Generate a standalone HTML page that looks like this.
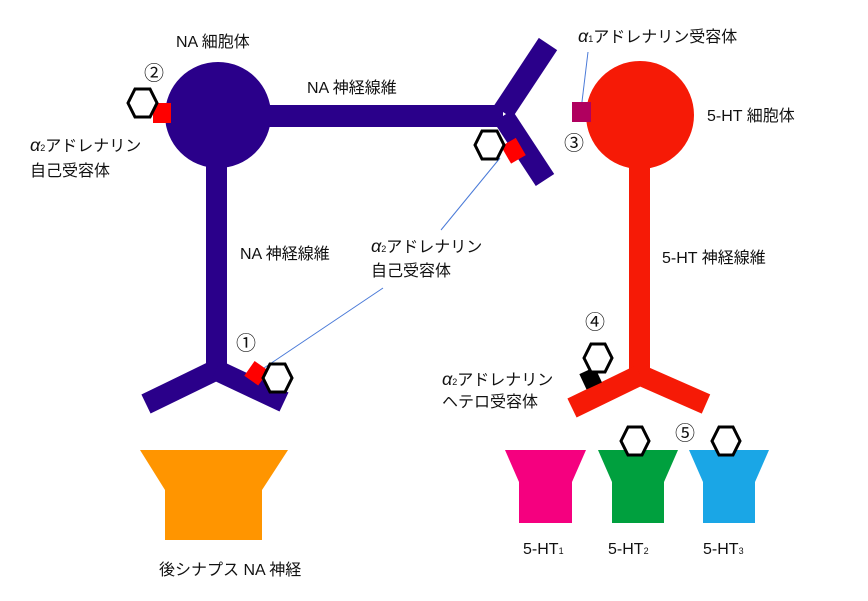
<!DOCTYPE html>
<html><head><meta charset="utf-8"><style>
html,body{margin:0;padding:0;background:#fff;width:868px;height:601px;overflow:hidden}
text{font-family:"Liberation Sans","Noto Sans CJK JP",sans-serif;font-size:16px;fill:#111}
.s{font-size:9px}
.c{font-size:20px}
.a{font-style:italic;font-size:18px}
</style></head><body>
<svg width="868" height="601" viewBox="0 0 868 601" xmlns="http://www.w3.org/2000/svg">
<g fill="#2a008a" stroke="#2a008a">
<circle cx="218" cy="115" r="53" stroke="none"/>
<line x1="260" y1="116" x2="503" y2="116" stroke-width="22"/>
<line x1="503" y1="112" x2="548" y2="44" stroke-width="22"/>
<line x1="503" y1="116" x2="545" y2="180" stroke-width="22"/>
<line x1="216.5" y1="150" x2="216.5" y2="372" stroke-width="21"/>
<line x1="216" y1="370" x2="146" y2="404" stroke-width="21"/>
<line x1="216" y1="370" x2="284" y2="402" stroke-width="21"/>
</g>
<g stroke="#f61a06" fill="#f61a06">
<circle cx="640" cy="115" r="54" stroke="none"/>
<line x1="639.5" y1="150" x2="639.5" y2="378" stroke-width="21"/>
<line x1="640" y1="375" x2="572" y2="408" stroke-width="21"/>
<line x1="640" y1="375" x2="706" y2="404" stroke-width="21"/>
</g>
<g stroke="#4a7ad8" stroke-width="1">
<line x1="441" y1="230" x2="500" y2="158"/>
<line x1="383" y1="288" x2="258" y2="372"/>
<line x1="588" y1="52" x2="581" y2="110"/>
</g>
<rect x="153" y="103" width="18" height="20" fill="#f00"/>
<rect x="505" y="141" width="17" height="20" fill="#f00" transform="rotate(-30 513 151)"/>
<rect x="248" y="364" width="17" height="18" fill="#f00" transform="rotate(35 256 373)"/>
<rect x="572" y="102" width="19" height="20" fill="#b0005f"/>
<rect x="582" y="370" width="17" height="17" fill="#000" transform="rotate(-25 590 378)"/>
<g fill="#fff" stroke="#000" stroke-width="3">
<polygon points="128,103 135,89 150,89 157,103 150,117 135,117"/>
<polygon points="475,145 482,131 497,131 504,145 497,159 482,159"/>
<polygon points="263,378 270,364 285,364 292,378 285,392 270,392"/>
<polygon points="584,358 591,344 605,344 612,358 605,372 591,372"/>
</g>
<polygon points="505,450 586,450 572,482 572,523 519,523 519,482" fill="#f5007f"/>
<polygon points="598,450 678,450 664,482 664,523 612,523 612,482" fill="#00a03e"/>
<polygon points="689,450 769,450 755,482 755,523 703,523 703,482" fill="#1aa6e6"/>
<polygon points="140,450 288,450 262,490 262,540 165,540 165,490" fill="#ff9500"/>
<g fill="#fff" stroke="#000" stroke-width="3">
<polygon points="621,441 628,427 642,427 649,441 642,455 628,455"/>
<polygon points="712,441 719,427 733,427 740,441 733,455 719,455"/>
</g>
<text x="176" y="47">NA 細胞体</text>
<text x="144" y="80" class="c">②</text>
<text x="30" y="151"><tspan class="a">α</tspan><tspan class="s">2</tspan>アドレナリン</text>
<text x="30" y="176">自己受容体</text>
<text x="307" y="93">NA 神経線維</text>
<text x="240" y="259">NA 神経線維</text>
<text x="371" y="252"><tspan class="a">α</tspan><tspan class="s">2</tspan>アドレナリン</text>
<text x="371" y="276">自己受容体</text>
<text x="236" y="350" class="c">①</text>
<text x="578" y="42"><tspan class="a">α</tspan><tspan class="s">1</tspan>アドレナリン受容体</text>
<text x="707" y="121">5-HT 細胞体</text>
<text x="564" y="150" class="c">③</text>
<text x="585" y="329" class="c">④</text>
<text x="662" y="263">5-HT 神経線維</text>
<text x="442" y="385"><tspan class="a">α</tspan><tspan class="s">2</tspan>アドレナリン</text>
<text x="442" y="407">ヘテロ受容体</text>
<text x="675" y="440" class="c">⑤</text>
<text x="523" y="554">5-HT<tspan class="s">1</tspan></text>
<text x="608" y="554">5-HT<tspan class="s">2</tspan></text>
<text x="703" y="554">5-HT<tspan class="s">3</tspan></text>
<text x="159" y="575">後シナプス NA 神経</text>
</svg>
</body></html>
